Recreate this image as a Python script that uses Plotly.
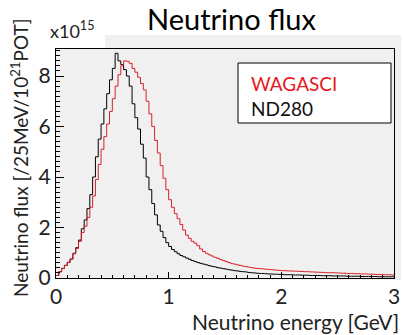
import plotly.graph_objects as go

# Neutrino flux per 25 MeV bin (x1e15 / 1e21 POT), bins from 0 to 3 GeV
bin_width = 0.025
nd280 = [
    0.1, 0.25, 0.38, 0.5, 0.62, 0.75, 0.98, 1.2, 1.5, 1.95,
    2.3, 2.75, 3.3, 4.0, 4.8, 5.5, 6.1, 6.7, 7.3, 7.85,
    8.3, 8.9, 8.6, 8.45, 8.25, 8.0, 7.6, 6.9, 6.35, 5.9,
    5.3, 4.75, 4.0, 3.5, 2.95, 2.5, 2.1, 1.85, 1.6, 1.4,
    1.25, 1.13, 1.04, 0.96, 0.89, 0.84, 0.79, 0.74, 0.69, 0.65,
    0.61, 0.58, 0.55, 0.52, 0.49, 0.46, 0.44, 0.41, 0.39, 0.37,
    0.35, 0.33, 0.31, 0.29, 0.28, 0.26, 0.25, 0.24, 0.22, 0.21,
    0.2, 0.19, 0.18, 0.18, 0.17, 0.16, 0.16, 0.15, 0.15, 0.14,
    0.14, 0.13, 0.13, 0.13, 0.12, 0.12, 0.12, 0.11, 0.11, 0.11,
    0.1, 0.1, 0.1, 0.1, 0.09, 0.09, 0.09, 0.09, 0.08, 0.08,
    0.08, 0.08, 0.08, 0.07, 0.07, 0.07, 0.07, 0.07, 0.06, 0.06,
    0.06, 0.06, 0.06, 0.06, 0.05, 0.05, 0.05, 0.05, 0.05, 0.05,
]
wagasci = [
    0.1, 0.25, 0.38, 0.5, 0.62, 0.75, 0.96, 1.17, 1.45, 1.8,
    2.05, 2.4, 2.8, 3.25, 3.9, 4.5, 5.1, 5.6, 6.1, 6.6,
    7.1, 7.6, 8.05, 8.4, 8.6, 8.58, 8.5, 8.3, 8.15, 7.95,
    7.7, 7.45, 7.0, 6.5, 6.0, 5.45, 4.95, 4.45, 3.95, 3.5,
    3.1, 2.8, 2.55, 2.35, 2.12, 1.9, 1.7, 1.57, 1.45, 1.38,
    1.28, 1.15, 1.05, 0.98, 0.92, 0.87, 0.82, 0.78, 0.73, 0.69,
    0.65, 0.61, 0.57, 0.55, 0.52, 0.5, 0.47, 0.45, 0.43, 0.41,
    0.39, 0.38, 0.37, 0.36, 0.35, 0.34, 0.33, 0.32, 0.31, 0.3,
    0.29, 0.29, 0.28, 0.28, 0.27, 0.27, 0.26, 0.26, 0.25, 0.25,
    0.24, 0.24, 0.23, 0.23, 0.22, 0.22, 0.21, 0.21, 0.21, 0.2,
    0.2, 0.19, 0.19, 0.18, 0.18, 0.18, 0.17, 0.17, 0.16, 0.16,
    0.16, 0.15, 0.15, 0.14, 0.14, 0.14, 0.13, 0.13, 0.13, 0.12,
]
assert len(nd280) == 120 and len(wagasci) == 120
x_ticks = [0, 1, 2, 3]
y_ticks = [0, 2, 4, 6, 8]

edges = [i * bin_width for i in range(len(nd280) + 1)]

FONT = "Lato"
GRAY = "#f0f0f0"
W, H = 404, 335
L, R, T, B = 56, 10, 49, 57
pw, ph = W - L - R, H - T - B


def px(xp):
    return (xp - L) / pw


def py(yp):
    return (H - B - yp) / ph


fig = go.Figure()
fig.add_trace(go.Scatter(x=edges, y=nd280 + [nd280[-1]], mode="lines",
                         line=dict(color="black", width=1, shape="hv"),
                         name="ND280", showlegend=False, hoverinfo="skip"))
fig.add_trace(go.Scatter(x=edges, y=wagasci + [wagasci[-1]], mode="lines",
                         line=dict(color="#d8202a", width=1, shape="hv"),
                         name="WAGASCI", showlegend=False, hoverinfo="skip"))

shapes = [
    dict(type="rect", xref="paper", yref="paper", x0=px(105), x1=px(401),
         y0=py(280), y1=py(35), fillcolor=GRAY, line_width=0, layer="below"),
    dict(type="rect", xref="paper", yref="paper", x0=px(238), x1=px(391),
         y0=py(123), y1=py(63), fillcolor="white",
         line=dict(color="black", width=1), layer="above"),
]


def ann(text, x, y, size, color="#222", xanchor="center", **kw):
    return dict(text=text, xref="paper", yref="paper", x=px(x), y=py(y),
                xanchor=xanchor, yanchor="middle", showarrow=False,
                font=dict(family=FONT, size=size, color=color), **kw)


annotations = [
    ann("Neutrino flux", 231, 19, 29, "black"),
    ann("x10<sup>15</sup>", 48, 30, 18, xanchor="left"),
    ann("WAGASCI", 249, 83, 19, "#e8171f", xanchor="left"),
    ann("ND280", 249, 108, 19, "#111", xanchor="left"),
    ann("Neutrino energy [GeV]", 401, 321, 21, xanchor="right"),
    ann("Neutrino flux [/25MeV/10<sup>21</sup>POT]", 19, 158, 19, textangle=-90),
]

fig.update_layout(
    width=W, height=H,
    margin=dict(l=L, r=R, t=T, b=B, autoexpand=False),
    paper_bgcolor="white", plot_bgcolor=GRAY,
    shapes=shapes, annotations=annotations,
    font=dict(family=FONT, color="#222"),
    showlegend=False,
)
fig.update_xaxes(range=[0, 3], tickvals=x_ticks, ticks="inside", ticklen=6,
                 tickcolor="black", showline=True, linecolor="black", linewidth=1,
                 mirror=True, showgrid=False, zeroline=False, automargin=False,
                 tickfont=dict(family=FONT, size=21, color="#222"),
                 minor=dict(dtick=0.1, ticks="inside", ticklen=3, tickcolor="black"))
fig.update_yaxes(range=[0, 9.07], tickvals=y_ticks, ticks="inside", ticklen=8,
                 tickcolor="black", showline=True, linecolor="black", linewidth=1,
                 mirror=True, showgrid=False, zeroline=False, automargin=False,
                 tickfont=dict(family=FONT, size=21, color="#222"),
                 minor=dict(dtick=0.2, ticks="inside", ticklen=4, tickcolor="black"))

fig.write_html("out.html", config={"displayModeBar": False},
               post_script="document.body.style.margin='0';")
